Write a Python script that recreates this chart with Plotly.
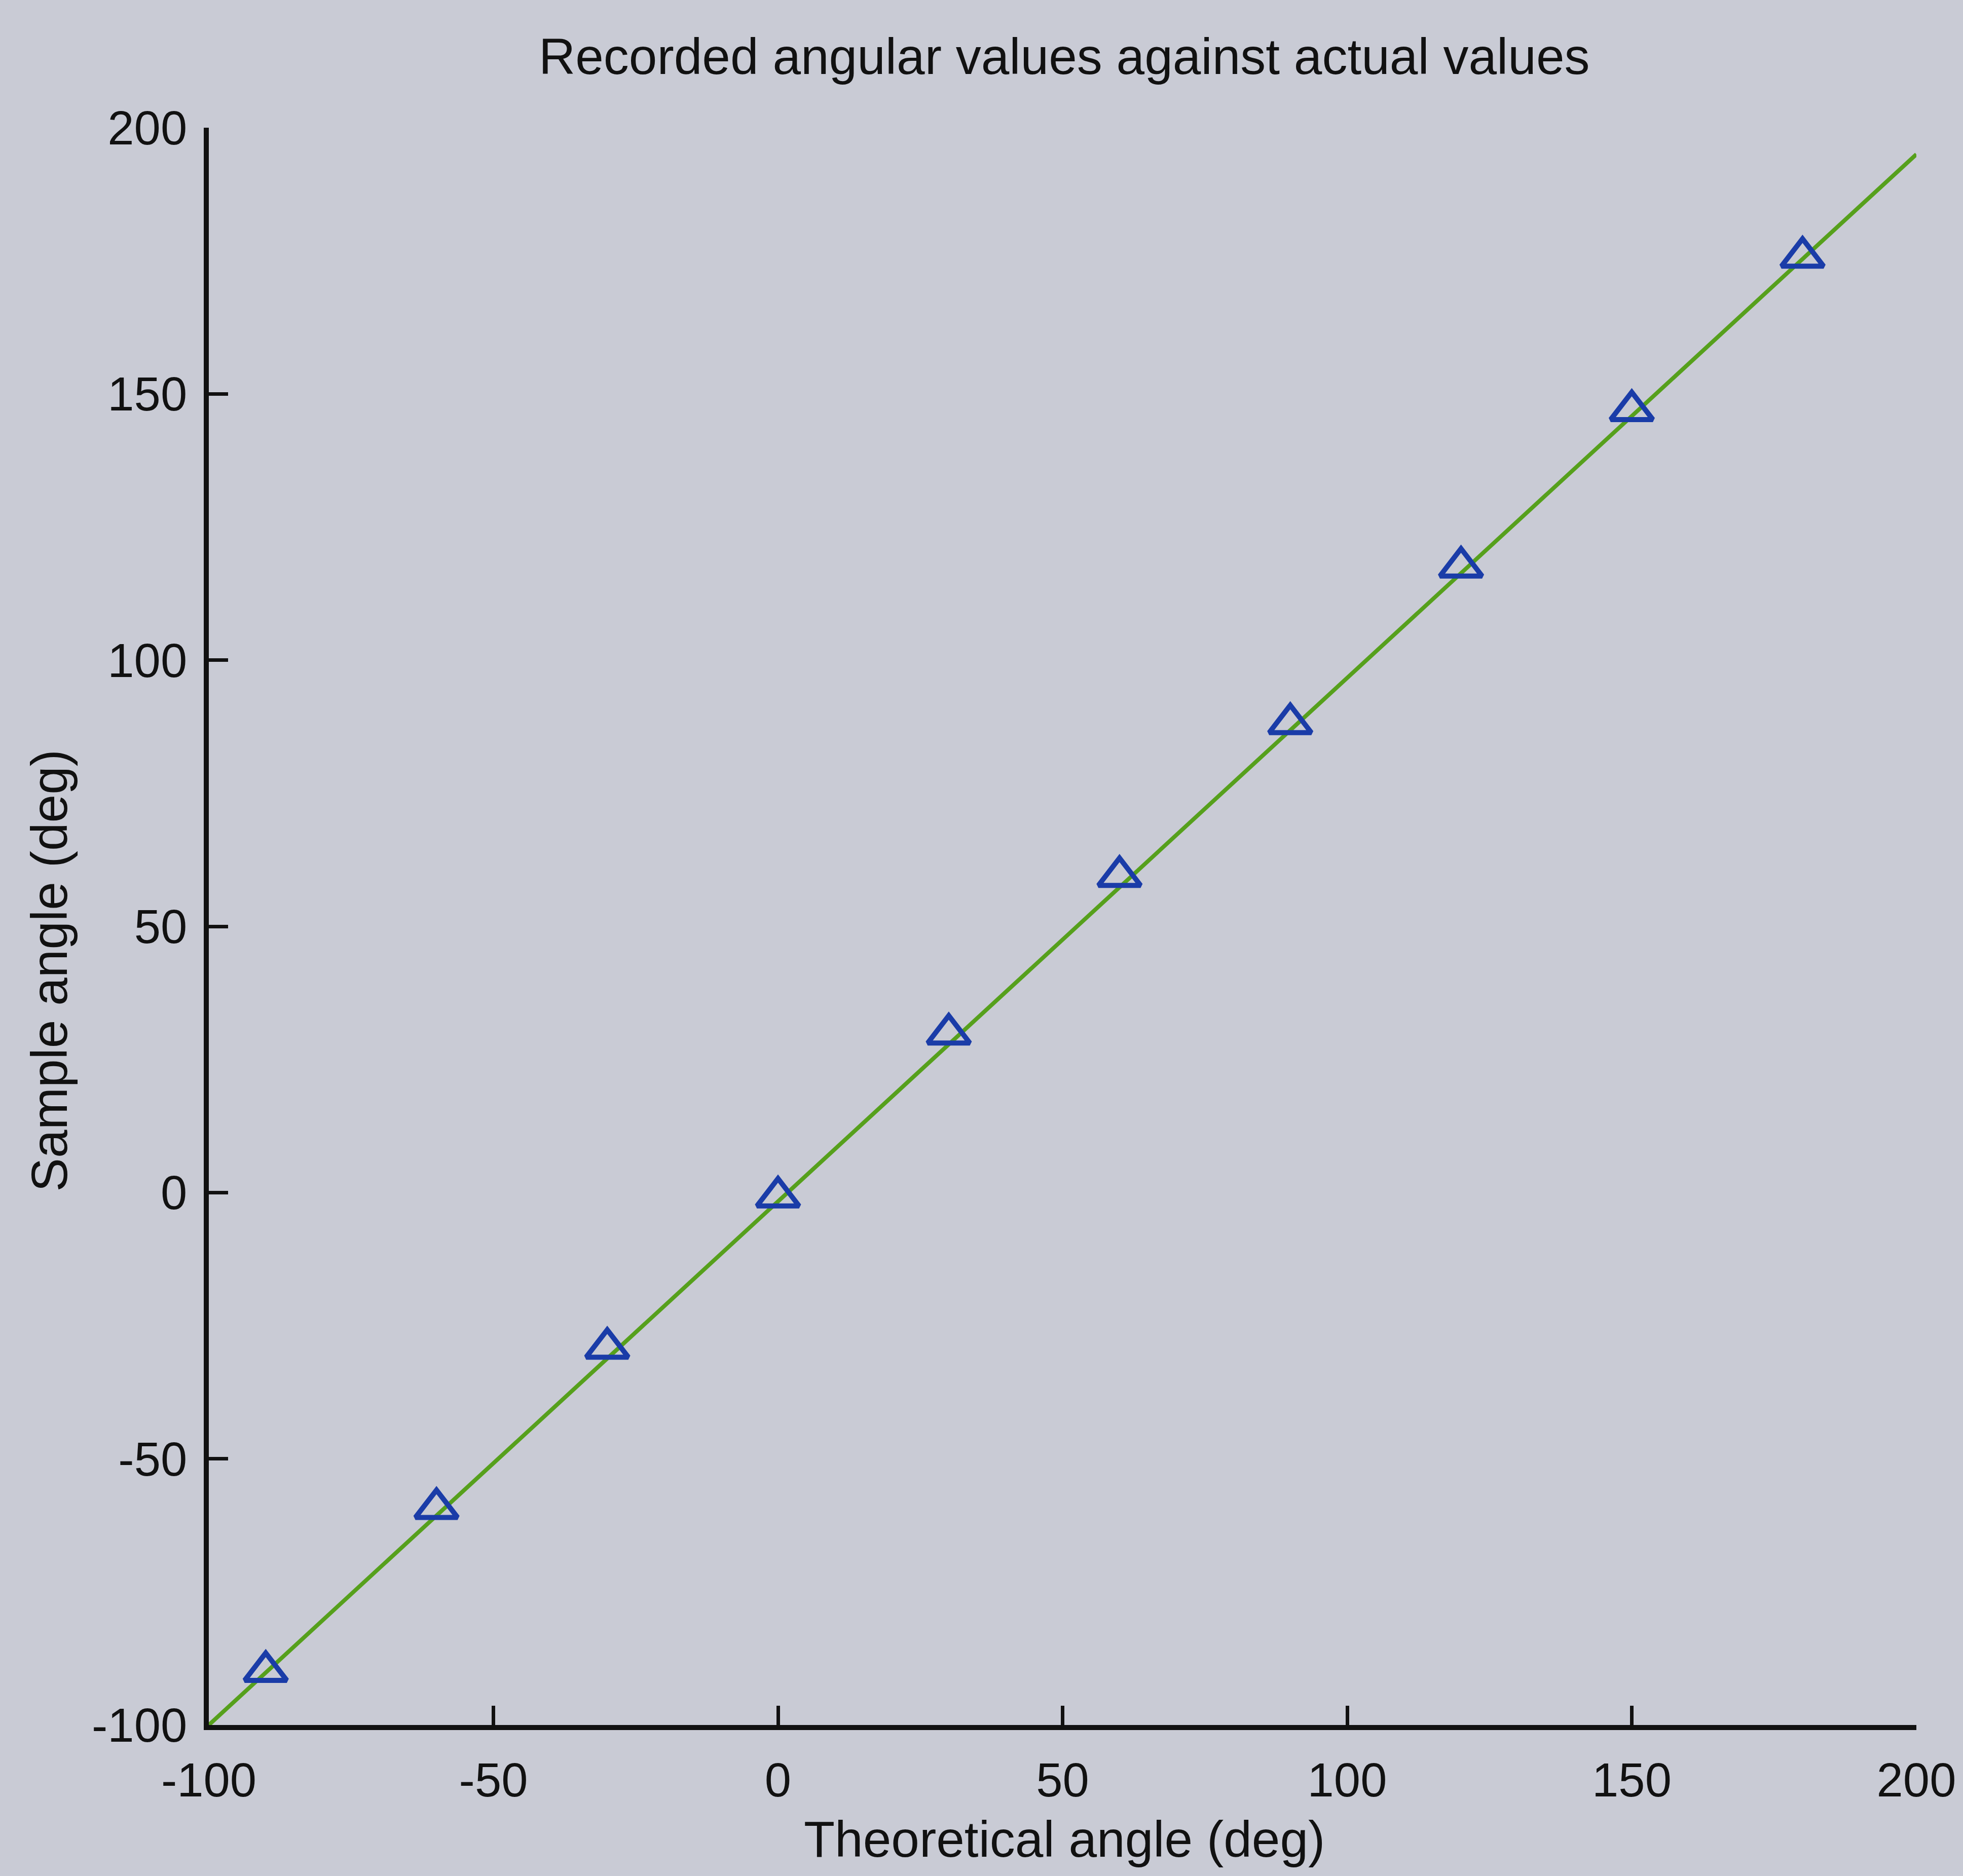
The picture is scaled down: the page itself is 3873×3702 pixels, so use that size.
import plotly.graph_objects as go

# Data
theoretical = [-90, -60, -30, 0, 30, 60, 90, 120, 150, 180]
sample = [-89.9, -59.3, -29.2, -0.8, 29.8, 59.4, 88.1, 117.5, 146.9, 175.7]
fit_x = [-100, 200]
fit_y = [-100, 195]
tick_vals = [-100, -50, 0, 50, 100, 150, 200]
tick_text = ["-100", "-50", "0", "50", "100", "150", "200"]

title_text = "Recorded angular values against actual values"
x_label = "Theoretical angle (deg)"
y_label = "Sample angle (deg)"

BG = "#c9cbd5"
FONT = "Liberation Sans, Arial, Helvetica, sans-serif"

fig = go.Figure()
fig.add_trace(go.Scatter(
    x=fit_x, y=fit_y, mode="lines",
    line=dict(color="#56a01c", width=8),
    showlegend=False, hoverinfo="skip",
))
fig.add_trace(go.Scatter(
    x=theoretical, y=sample, mode="markers",
    marker=dict(symbol="triangle-up-open", size=72,
                line=dict(color="#1a3ca8", width=10), color="#1a3ca8"),
    showlegend=False,
))

axis_common = dict(
    range=[-100, 200],
    tickvals=tick_vals, ticktext=tick_text,
    showline=True, linecolor="#111111", linewidth=10,
    ticks="inside", ticklen=38, tickwidth=7, tickcolor="#111111",
    showgrid=False, zeroline=False, mirror=False,
    tickfont=dict(family=FONT, size=94, color="#111111"),
)

fig.update_layout(
    width=3873, height=3702,
    margin=dict(l=412, r=92, t=252, b=298),
    paper_bgcolor=BG, plot_bgcolor=BG,
    xaxis=dict(**axis_common, ticklabelstandoff=18),
    yaxis=dict(**axis_common, ticklabelstandoff=14),
    annotations=[
        dict(text=title_text, xref="paper", yref="paper", x=0.501, y=1.0447,
             xanchor="center", yanchor="middle", showarrow=False,
             font=dict(family=FONT, size=100, color="#111111")),
        dict(text=x_label, xref="paper", yref="paper", x=0.501, y=-0.0715,
             xanchor="center", yanchor="middle", showarrow=False,
             font=dict(family=FONT, size=100, color="#111111")),
        dict(text=y_label, xref="paper", yref="paper", x=-0.0935, y=0.4725,
             xanchor="center", yanchor="middle", showarrow=False, textangle=-90,
             font=dict(family=FONT, size=100, color="#111111")),
    ],
)

fig.write_html("out.html")
